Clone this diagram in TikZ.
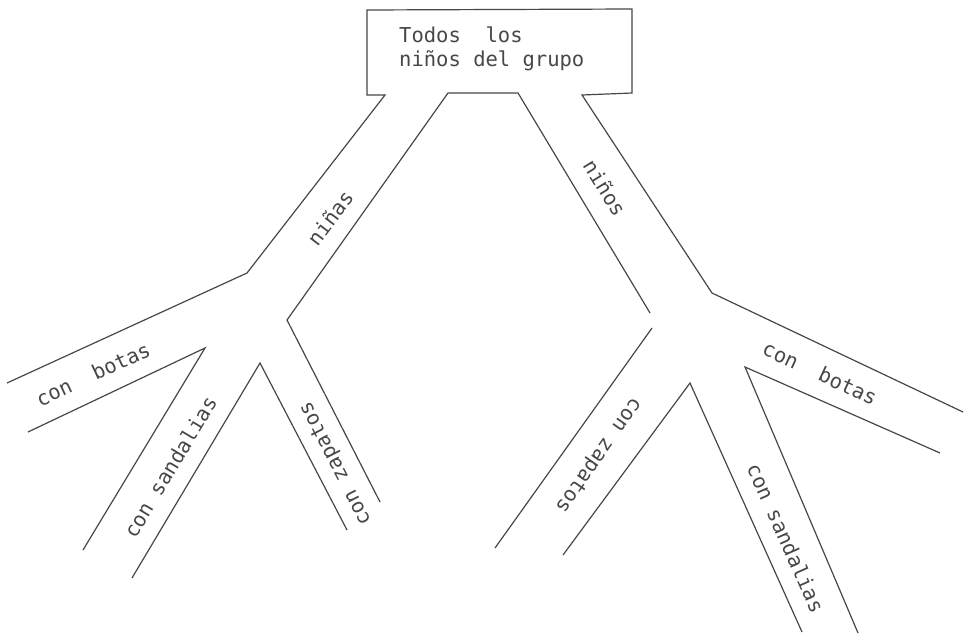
\documentclass[tikz,border=0pt]{standalone}
\usepackage{fontspec}
\setmonofont{DejaVu Sans Mono}
\definecolor{ink}{HTML}{474747}
\begin{document}
\begin{tikzpicture}[x=1pt,y=1pt,
  branch/.style={draw=ink,line width=1.2pt,line join=miter},
  lbl/.style={font=\ttfamily\fontsize{20.5}{24}\selectfont,text=ink,inner sep=0pt}]
\useasboundingbox (0,0) rectangle (971,-637);
% top box and outer edges
\coordinate (bl) at (7,-383);
\coordinate (bk) at (247,-273);
\coordinate (ao) at (385,-95);
\coordinate (b1) at (367,-95);
\coordinate (b2) at (367,-10);
\coordinate (b3) at (632,-9);
\coordinate (b4) at (632,-93);
\coordinate (oo) at (582,-95);
\coordinate (ok) at (712,-293);
\coordinate (br) at (963,-412);
\draw[branch] (bl) -- (bk) -- (ao) -- (b1) -- (b2) -- (b3) -- (b4) -- (oo) -- (ok) -- (br);
% inner middle
\coordinate (ni) at (650,-313);
\coordinate (m1) at (518,-93);
\coordinate (m2) at (448,-93);
\coordinate (mk) at (287,-320);
\coordinate (ze) at (380,-502);
\draw[branch] (ni) -- (m1) -- (m2) -- (mk) -- (ze);
% left lower branches
\coordinate (lb1) at (28,-432);
\coordinate (lk1) at (205,-348);
\coordinate (ls1) at (83,-550);
\draw[branch] (lb1) -- (lk1) -- (ls1);
\coordinate (ls2) at (132,-578);
\coordinate (lk2) at (260,-363);
\coordinate (lz2) at (347,-530);
\draw[branch] (ls2) -- (lk2) -- (lz2);
% right lower branches
\coordinate (rz1a) at (652,-328);
\coordinate (rz1b) at (495,-548);
\draw[branch] (rz1a) -- (rz1b);
\coordinate (rz2) at (563,-555);
\coordinate (rk2) at (690,-383);
\coordinate (rs2) at (802,-632);
\draw[branch] (rz2) -- (rk2) -- (rs2);
\coordinate (rs3) at (858,-633);
\coordinate (rk3) at (745,-367);
\coordinate (rb3) at (940,-453);
\draw[branch] (rs3) -- (rk3) -- (rb3);
% labels
\node[lbl,anchor=north west,align=left] (title) at (399,-27) {Todos\ \ los\\niños del grupo};
\node[lbl,rotate=53] (ninas) at (330,-218) {niñas};
\node[lbl,rotate=-58] (ninos) at (605,-188) {niños};
\node[lbl,rotate=25] (botasL) at (93,-374) {con\ \ botas};
\node[lbl,rotate=59] (sandL) at (170,-467) {con sandalias};
\node[lbl,rotate=117] (zapL) at (336,-463) {con zapatos};
\node[lbl,rotate=-125] (zapR) at (598,-455) {con zapatos};
\node[lbl,rotate=-25] (botasR) at (820,-373) {con\ \ botas};
\node[lbl,rotate=-66] (sandR) at (786,-538) {con sandalias};
\end{tikzpicture}
\end{document}
